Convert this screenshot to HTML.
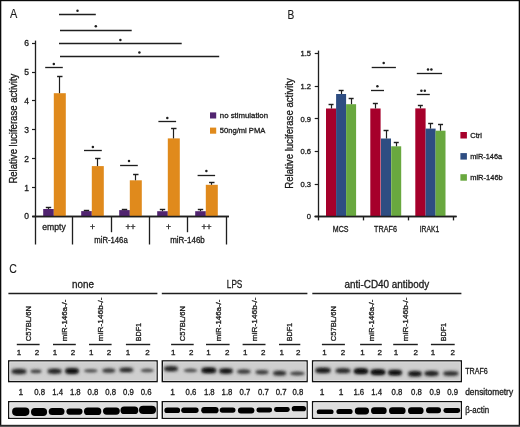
<!DOCTYPE html>
<html><head><meta charset="utf-8"><style>
html,body{margin:0;padding:0;background:#fff;}
body{width:520px;height:427px;overflow:hidden;}
svg{display:block;font-family:"Liberation Sans", sans-serif;will-change:transform;}
</style></head><body>
<svg width="520" height="427" viewBox="0 0 520 427">
<rect x="0" y="0" width="520" height="427" fill="#fff"/>
<text x="9.9" y="18.4" font-size="12.2" textLength="7.3" lengthAdjust="spacingAndGlyphs" fill="#1a1a1a" stroke="#1a1a1a" stroke-width="0.12">A</text>
<line x1="35.5" y1="40.6" x2="35.5" y2="244.5" stroke="#1e1e1e" stroke-width="1.32"/>
<line x1="32.0" y1="216.5" x2="35.1" y2="216.5" stroke="#1e1e1e" stroke-width="1.2"/>
<text x="29.0" y="219.4" font-size="8.5" text-anchor="end" fill="#1a1a1a" stroke="#1a1a1a" stroke-width="0.3">0</text>
<line x1="32.0" y1="187.5" x2="35.1" y2="187.5" stroke="#1e1e1e" stroke-width="1.2"/>
<text x="29.0" y="190.5" font-size="8.5" text-anchor="end" fill="#1a1a1a" stroke="#1a1a1a" stroke-width="0.3">1</text>
<line x1="32.0" y1="158.5" x2="35.1" y2="158.5" stroke="#1e1e1e" stroke-width="1.2"/>
<text x="29.0" y="161.6" font-size="8.5" text-anchor="end" fill="#1a1a1a" stroke="#1a1a1a" stroke-width="0.3">2</text>
<line x1="32.0" y1="129.5" x2="35.1" y2="129.5" stroke="#1e1e1e" stroke-width="1.2"/>
<text x="29.0" y="132.70000000000002" font-size="8.5" text-anchor="end" fill="#1a1a1a" stroke="#1a1a1a" stroke-width="0.3">3</text>
<line x1="32.0" y1="100.5" x2="35.1" y2="100.5" stroke="#1e1e1e" stroke-width="1.2"/>
<text x="29.0" y="103.80000000000001" font-size="8.5" text-anchor="end" fill="#1a1a1a" stroke="#1a1a1a" stroke-width="0.3">4</text>
<line x1="32.0" y1="72.5" x2="35.1" y2="72.5" stroke="#1e1e1e" stroke-width="1.2"/>
<text x="29.0" y="74.9" font-size="8.5" text-anchor="end" fill="#1a1a1a" stroke="#1a1a1a" stroke-width="0.3">5</text>
<line x1="32.0" y1="43.5" x2="35.1" y2="43.5" stroke="#1e1e1e" stroke-width="1.2"/>
<text x="29.0" y="46.00000000000002" font-size="8.5" text-anchor="end" fill="#1a1a1a" stroke="#1a1a1a" stroke-width="0.3">6</text>
<line x1="32.3" y1="216.5" x2="228.9" y2="216.5" stroke="#1e1e1e" stroke-width="1.44"/>
<line x1="72.5" y1="216.5" x2="72.5" y2="244.5" stroke="#1e1e1e" stroke-width="1.32"/>
<line x1="149.5" y1="216.5" x2="149.5" y2="244.5" stroke="#1e1e1e" stroke-width="1.32"/>
<line x1="226.5" y1="216.5" x2="226.5" y2="244.5" stroke="#1e1e1e" stroke-width="1.32"/>
<line x1="111.5" y1="216.5" x2="111.5" y2="232.2" stroke="#1e1e1e" stroke-width="1.32"/>
<line x1="187.5" y1="216.5" x2="187.5" y2="232.2" stroke="#1e1e1e" stroke-width="1.32"/>
<rect x="43.2" y="209.0" width="10.6" height="7.5" fill="#512470"/>
<rect x="53.8" y="93.2" width="12.0" height="123.3" fill="#e08a1c"/>
<line x1="48.5" y1="209.0" x2="48.5" y2="207.6" stroke="#1e1e1e" stroke-width="1.2"/>
<line x1="45.8" y1="207.5" x2="51.2" y2="207.5" stroke="#1e1e1e" stroke-width="1.44"/>
<line x1="59.5" y1="93.2" x2="59.5" y2="76.4" stroke="#1e1e1e" stroke-width="1.2"/>
<line x1="57.099999999999994" y1="76.5" x2="62.5" y2="76.5" stroke="#1e1e1e" stroke-width="1.44"/>
<rect x="81.2" y="211.1" width="10.6" height="5.400000000000006" fill="#512470"/>
<rect x="91.8" y="166.1" width="12.0" height="50.400000000000006" fill="#e08a1c"/>
<line x1="86.5" y1="211.1" x2="86.5" y2="210.1" stroke="#1e1e1e" stroke-width="1.2"/>
<line x1="83.8" y1="210.5" x2="89.2" y2="210.5" stroke="#1e1e1e" stroke-width="1.44"/>
<line x1="97.5" y1="166.1" x2="97.5" y2="158.4" stroke="#1e1e1e" stroke-width="1.2"/>
<line x1="95.1" y1="158.5" x2="100.5" y2="158.5" stroke="#1e1e1e" stroke-width="1.44"/>
<rect x="119.2" y="210.1" width="10.6" height="6.400000000000006" fill="#512470"/>
<rect x="129.8" y="180.3" width="12.0" height="36.19999999999999" fill="#e08a1c"/>
<line x1="124.5" y1="210.1" x2="124.5" y2="209.2" stroke="#1e1e1e" stroke-width="1.2"/>
<line x1="121.8" y1="209.5" x2="127.2" y2="209.5" stroke="#1e1e1e" stroke-width="1.44"/>
<line x1="135.5" y1="180.3" x2="135.5" y2="174.1" stroke="#1e1e1e" stroke-width="1.2"/>
<line x1="133.10000000000002" y1="174.5" x2="138.5" y2="174.5" stroke="#1e1e1e" stroke-width="1.44"/>
<rect x="157.2" y="211.2" width="10.6" height="5.300000000000011" fill="#512470"/>
<rect x="167.8" y="138.4" width="12.0" height="78.1" fill="#e08a1c"/>
<line x1="162.5" y1="211.2" x2="162.5" y2="209.8" stroke="#1e1e1e" stroke-width="1.2"/>
<line x1="159.8" y1="209.5" x2="165.2" y2="209.5" stroke="#1e1e1e" stroke-width="1.44"/>
<line x1="173.5" y1="138.4" x2="173.5" y2="128.5" stroke="#1e1e1e" stroke-width="1.2"/>
<line x1="171.10000000000002" y1="128.5" x2="176.5" y2="128.5" stroke="#1e1e1e" stroke-width="1.44"/>
<rect x="195.2" y="211.2" width="10.6" height="5.300000000000011" fill="#512470"/>
<rect x="205.8" y="184.8" width="12.0" height="31.69999999999999" fill="#e08a1c"/>
<line x1="200.5" y1="211.2" x2="200.5" y2="209.8" stroke="#1e1e1e" stroke-width="1.2"/>
<line x1="197.8" y1="209.5" x2="203.2" y2="209.5" stroke="#1e1e1e" stroke-width="1.44"/>
<line x1="211.5" y1="184.8" x2="211.5" y2="182.7" stroke="#1e1e1e" stroke-width="1.2"/>
<line x1="209.10000000000002" y1="182.5" x2="214.5" y2="182.5" stroke="#1e1e1e" stroke-width="1.44"/>
<line x1="32.3" y1="216.5" x2="228.9" y2="216.5" stroke="#1e1e1e" stroke-width="1.44"/>
<line x1="45.2" y1="67.5" x2="62.8" y2="67.5" stroke="#1e1e1e" stroke-width="1.32"/>
<circle cx="53.8" cy="64.1" r="1.25" fill="#1e1e1e"/>
<line x1="84.0" y1="150.5" x2="101.8" y2="150.5" stroke="#1e1e1e" stroke-width="1.32"/>
<circle cx="92.9" cy="146.9" r="1.25" fill="#1e1e1e"/>
<line x1="120.1" y1="165.5" x2="137.8" y2="165.5" stroke="#1e1e1e" stroke-width="1.32"/>
<circle cx="129.0" cy="161.10000000000002" r="1.25" fill="#1e1e1e"/>
<line x1="158.4" y1="121.5" x2="176.1" y2="121.5" stroke="#1e1e1e" stroke-width="1.32"/>
<circle cx="167.3" cy="117.89999999999999" r="1.25" fill="#1e1e1e"/>
<line x1="197.6" y1="175.5" x2="215.1" y2="175.5" stroke="#1e1e1e" stroke-width="1.32"/>
<circle cx="206.4" cy="171.10000000000002" r="1.25" fill="#1e1e1e"/>
<line x1="59.0" y1="14.5" x2="95.8" y2="14.5" stroke="#1e1e1e" stroke-width="1.32"/>
<circle cx="77.5" cy="10.700000000000001" r="1.25" fill="#1e1e1e"/>
<line x1="60.0" y1="30.5" x2="131.7" y2="30.5" stroke="#1e1e1e" stroke-width="1.32"/>
<circle cx="95.8" cy="26.3" r="1.25" fill="#1e1e1e"/>
<line x1="59.0" y1="43.5" x2="181.7" y2="43.5" stroke="#1e1e1e" stroke-width="1.32"/>
<circle cx="120.4" cy="39.9" r="1.25" fill="#1e1e1e"/>
<line x1="60.0" y1="56.5" x2="219.2" y2="56.5" stroke="#1e1e1e" stroke-width="1.32"/>
<circle cx="139.4" cy="52.599999999999994" r="1.25" fill="#1e1e1e"/>
<text transform="translate(17.2,128.6) rotate(-90)" font-size="10.0" text-anchor="middle" textLength="110" lengthAdjust="spacingAndGlyphs" fill="#1a1a1a" stroke="#1a1a1a" stroke-width="0.3">Relative luciferase activity</text>
<text x="54.0" y="230.0" font-size="8.6" text-anchor="middle" textLength="23.5" lengthAdjust="spacingAndGlyphs" fill="#1a1a1a" stroke="#1a1a1a" stroke-width="0.3">empty</text>
<text x="92.5" y="230.0" font-size="8.6" text-anchor="middle" fill="#1a1a1a" stroke="#1a1a1a" stroke-width="0.3">+</text>
<text x="130.5" y="230.0" font-size="8.6" text-anchor="middle" fill="#1a1a1a" stroke="#1a1a1a" stroke-width="0.3">++</text>
<text x="168.5" y="230.0" font-size="8.6" text-anchor="middle" fill="#1a1a1a" stroke="#1a1a1a" stroke-width="0.3">+</text>
<text x="206.5" y="230.0" font-size="8.6" text-anchor="middle" fill="#1a1a1a" stroke="#1a1a1a" stroke-width="0.3">++</text>
<text x="111.0" y="243.2" font-size="8.4" text-anchor="middle" textLength="33.4" lengthAdjust="spacingAndGlyphs" fill="#1a1a1a" stroke="#1a1a1a" stroke-width="0.3">miR-146a</text>
<text x="187.5" y="243.4" font-size="8.4" text-anchor="middle" textLength="34.6" lengthAdjust="spacingAndGlyphs" fill="#1a1a1a" stroke="#1a1a1a" stroke-width="0.3">miR-146b</text>
<rect x="210.0" y="112.4" width="6.2" height="6.1" fill="#512470"/>
<rect x="210.0" y="127.6" width="6.2" height="6.1" fill="#e08a1c"/>
<text x="219.8" y="118.2" font-size="7.8" textLength="48.2" lengthAdjust="spacingAndGlyphs" fill="#1a1a1a" stroke="#1a1a1a" stroke-width="0.3">no stimulation</text>
<text x="219.8" y="133.4" font-size="7.8" textLength="45.5" lengthAdjust="spacingAndGlyphs" fill="#1a1a1a" stroke="#1a1a1a" stroke-width="0.3">50ng/ml PMA</text>
<text x="287.5" y="18.7" font-size="12.2" textLength="6.8" lengthAdjust="spacingAndGlyphs" fill="#1a1a1a" stroke="#1a1a1a" stroke-width="0.12">B</text>
<line x1="318.5" y1="50.6" x2="318.5" y2="220.4" stroke="#1e1e1e" stroke-width="1.32"/>
<line x1="314.7" y1="216.5" x2="318.4" y2="216.5" stroke="#1e1e1e" stroke-width="1.2"/>
<text x="311.0" y="219.39999999999998" font-size="7.6" text-anchor="end" fill="#1a1a1a" stroke="#1a1a1a" stroke-width="0.3">0</text>
<line x1="314.7" y1="184.5" x2="318.4" y2="184.5" stroke="#1e1e1e" stroke-width="1.2"/>
<text x="311.0" y="186.78999999999996" font-size="7.6" text-anchor="end" fill="#1a1a1a" stroke="#1a1a1a" stroke-width="0.3">0.3</text>
<line x1="314.7" y1="151.5" x2="318.4" y2="151.5" stroke="#1e1e1e" stroke-width="1.2"/>
<text x="311.0" y="154.17999999999998" font-size="7.6" text-anchor="end" fill="#1a1a1a" stroke="#1a1a1a" stroke-width="0.3">0.6</text>
<line x1="314.7" y1="118.5" x2="318.4" y2="118.5" stroke="#1e1e1e" stroke-width="1.2"/>
<text x="311.0" y="121.57" font-size="7.6" text-anchor="end" fill="#1a1a1a" stroke="#1a1a1a" stroke-width="0.3">0.9</text>
<line x1="314.7" y1="86.5" x2="318.4" y2="86.5" stroke="#1e1e1e" stroke-width="1.2"/>
<text x="311.0" y="88.96" font-size="7.6" text-anchor="end" fill="#1a1a1a" stroke="#1a1a1a" stroke-width="0.3">1.2</text>
<line x1="314.7" y1="53.5" x2="318.4" y2="53.5" stroke="#1e1e1e" stroke-width="1.2"/>
<text x="311.0" y="56.34999999999998" font-size="7.6" text-anchor="end" fill="#1a1a1a" stroke="#1a1a1a" stroke-width="0.3">1.5</text>
<line x1="314.7" y1="216.5" x2="456.6" y2="216.5" stroke="#1e1e1e" stroke-width="1.44"/>
<line x1="363.5" y1="216.7" x2="363.5" y2="220.4" stroke="#1e1e1e" stroke-width="1.32"/>
<line x1="408.5" y1="216.7" x2="408.5" y2="220.4" stroke="#1e1e1e" stroke-width="1.32"/>
<line x1="453.5" y1="216.7" x2="453.5" y2="220.4" stroke="#1e1e1e" stroke-width="1.32"/>
<rect x="326.0" y="108.5" width="10.3" height="108.19999999999999" fill="#a6002b"/>
<line x1="331.5" y1="108.5" x2="331.5" y2="104.6" stroke="#1e1e1e" stroke-width="1.2"/>
<line x1="328.55" y1="104.5" x2="333.55" y2="104.5" stroke="#1e1e1e" stroke-width="1.44"/>
<rect x="336.1" y="94.0" width="10.0" height="122.69999999999999" fill="#2e4d82"/>
<line x1="341.5" y1="94.0" x2="341.5" y2="90.8" stroke="#1e1e1e" stroke-width="1.2"/>
<line x1="338.65000000000003" y1="90.5" x2="343.65000000000003" y2="90.5" stroke="#1e1e1e" stroke-width="1.44"/>
<rect x="346.1" y="104.2" width="10.0" height="112.49999999999999" fill="#69a83f"/>
<line x1="351.5" y1="104.2" x2="351.5" y2="98.3" stroke="#1e1e1e" stroke-width="1.2"/>
<line x1="348.65000000000003" y1="98.5" x2="353.65000000000003" y2="98.5" stroke="#1e1e1e" stroke-width="1.44"/>
<rect x="370.3" y="108.5" width="10.3" height="108.19999999999999" fill="#a6002b"/>
<line x1="375.5" y1="108.5" x2="375.5" y2="103.1" stroke="#1e1e1e" stroke-width="1.2"/>
<line x1="372.85" y1="103.5" x2="377.85" y2="103.5" stroke="#1e1e1e" stroke-width="1.44"/>
<rect x="381.0" y="138.5" width="10.0" height="78.19999999999999" fill="#2e4d82"/>
<line x1="386.5" y1="138.5" x2="386.5" y2="130.1" stroke="#1e1e1e" stroke-width="1.2"/>
<line x1="383.55" y1="130.5" x2="388.55" y2="130.5" stroke="#1e1e1e" stroke-width="1.44"/>
<rect x="391.2" y="146.3" width="10.0" height="70.39999999999998" fill="#69a83f"/>
<line x1="396.5" y1="146.3" x2="396.5" y2="142.3" stroke="#1e1e1e" stroke-width="1.2"/>
<line x1="393.75" y1="142.5" x2="398.75" y2="142.5" stroke="#1e1e1e" stroke-width="1.44"/>
<rect x="415.3" y="108.4" width="10.3" height="108.29999999999998" fill="#a6002b"/>
<line x1="420.5" y1="108.4" x2="420.5" y2="105.6" stroke="#1e1e1e" stroke-width="1.2"/>
<line x1="417.85" y1="105.5" x2="422.85" y2="105.5" stroke="#1e1e1e" stroke-width="1.44"/>
<rect x="425.6" y="128.6" width="10.0" height="88.1" fill="#2e4d82"/>
<line x1="430.5" y1="128.6" x2="430.5" y2="123.8" stroke="#1e1e1e" stroke-width="1.2"/>
<line x1="428.15000000000003" y1="123.5" x2="433.15000000000003" y2="123.5" stroke="#1e1e1e" stroke-width="1.44"/>
<rect x="435.5" y="130.7" width="10.0" height="86.0" fill="#69a83f"/>
<line x1="440.5" y1="130.7" x2="440.5" y2="124.7" stroke="#1e1e1e" stroke-width="1.2"/>
<line x1="438.05" y1="124.5" x2="443.05" y2="124.5" stroke="#1e1e1e" stroke-width="1.44"/>
<line x1="314.7" y1="216.5" x2="456.6" y2="216.5" stroke="#1e1e1e" stroke-width="1.44"/>
<line x1="371.7" y1="67.5" x2="395.9" y2="67.5" stroke="#1e1e1e" stroke-width="1.32"/>
<circle cx="383.7" cy="63.099999999999994" r="1.25" fill="#1e1e1e"/>
<line x1="371.0" y1="90.5" x2="384.0" y2="90.5" stroke="#1e1e1e" stroke-width="1.32"/>
<circle cx="377.4" cy="86.3" r="1.25" fill="#1e1e1e"/>
<line x1="416.8" y1="73.5" x2="442.1" y2="73.5" stroke="#1e1e1e" stroke-width="1.32"/>
<circle cx="428.0" cy="69.5" r="1.25" fill="#1e1e1e"/>
<circle cx="431.4" cy="69.5" r="1.25" fill="#1e1e1e"/>
<line x1="416.8" y1="94.5" x2="429.8" y2="94.5" stroke="#1e1e1e" stroke-width="1.32"/>
<circle cx="421.4" cy="90.7" r="1.25" fill="#1e1e1e"/>
<circle cx="424.8" cy="90.7" r="1.25" fill="#1e1e1e"/>
<text transform="translate(292.8,133.5) rotate(-90)" font-size="10.0" text-anchor="middle" textLength="110.4" lengthAdjust="spacingAndGlyphs" fill="#1a1a1a" stroke="#1a1a1a" stroke-width="0.3">Relative luciferase activity</text>
<text x="340.6" y="231.5" font-size="8.4" text-anchor="middle" textLength="15.7" lengthAdjust="spacingAndGlyphs" fill="#1a1a1a" stroke="#1a1a1a" stroke-width="0.3">MCS</text>
<text x="385.5" y="231.5" font-size="8.4" text-anchor="middle" textLength="22.8" lengthAdjust="spacingAndGlyphs" fill="#1a1a1a" stroke="#1a1a1a" stroke-width="0.3">TRAF6</text>
<text x="429.5" y="231.5" font-size="8.4" text-anchor="middle" textLength="19.5" lengthAdjust="spacingAndGlyphs" fill="#1a1a1a" stroke="#1a1a1a" stroke-width="0.3">IRAK1</text>
<rect x="460.4" y="132.0" width="6.5" height="6.5" fill="#a6002b"/>
<rect x="460.4" y="153.1" width="6.5" height="6.5" fill="#2e4d82"/>
<rect x="460.4" y="174.2" width="6.5" height="6.5" fill="#69a83f"/>
<text x="470.2" y="138.2" font-size="8.0" textLength="11.8" lengthAdjust="spacingAndGlyphs" fill="#1a1a1a" stroke="#1a1a1a" stroke-width="0.3">Ctrl</text>
<text x="470.2" y="159.2" font-size="8.0" textLength="31.9" lengthAdjust="spacingAndGlyphs" fill="#1a1a1a" stroke="#1a1a1a" stroke-width="0.3">miR-146a</text>
<text x="470.2" y="180.3" font-size="8.0" textLength="32.6" lengthAdjust="spacingAndGlyphs" fill="#1a1a1a" stroke="#1a1a1a" stroke-width="0.3">miR-146b</text>
<text x="9.2" y="272.6" font-size="12.2" textLength="7.6" lengthAdjust="spacingAndGlyphs" fill="#1a1a1a" stroke="#1a1a1a" stroke-width="0.12">C</text>
<line x1="8.4" y1="293.5" x2="157.4" y2="293.5" stroke="#1e1e1e" stroke-width="1.44"/>
<text x="83.0" y="287.8" font-size="10.0" text-anchor="middle" textLength="21.9" lengthAdjust="spacingAndGlyphs" fill="#1a1a1a" stroke="#1a1a1a" stroke-width="0.3">none</text>
<line x1="161.8" y1="293.5" x2="307.4" y2="293.5" stroke="#1e1e1e" stroke-width="1.44"/>
<text x="234.6" y="287.8" font-size="10.0" text-anchor="middle" textLength="15.5" lengthAdjust="spacingAndGlyphs" fill="#1a1a1a" stroke="#1a1a1a" stroke-width="0.3">LPS</text>
<line x1="312.3" y1="293.5" x2="461.4" y2="293.5" stroke="#1e1e1e" stroke-width="1.44"/>
<text x="386.9" y="287.8" font-size="10.0" text-anchor="middle" textLength="84.6" lengthAdjust="spacingAndGlyphs" fill="#1a1a1a" stroke="#1a1a1a" stroke-width="0.3">anti-CD40 antibody</text>
<line x1="16.8" y1="344.5" x2="39.6" y2="344.5" stroke="#1e1e1e" stroke-width="1.44"/>
<text x="19.0" y="355.3" font-size="8.0" text-anchor="middle" fill="#1a1a1a" stroke="#1a1a1a" stroke-width="0.3">1</text>
<text x="37.0" y="355.3" font-size="8.0" text-anchor="middle" fill="#1a1a1a" stroke="#1a1a1a" stroke-width="0.3">2</text>
<text transform="translate(30.9,341.2) rotate(-90)" font-size="7.9" textLength="35.1" lengthAdjust="spacingAndGlyphs" fill="#1a1a1a" stroke="#1a1a1a" stroke-width="0.3">C57BL/6N</text>
<line x1="53.0" y1="344.5" x2="75.8" y2="344.5" stroke="#1e1e1e" stroke-width="1.44"/>
<text x="55.0" y="355.3" font-size="8.0" text-anchor="middle" fill="#1a1a1a" stroke="#1a1a1a" stroke-width="0.3">1</text>
<text x="73.0" y="355.3" font-size="8.0" text-anchor="middle" fill="#1a1a1a" stroke="#1a1a1a" stroke-width="0.3">2</text>
<text transform="translate(67.1,341.2) rotate(-90)" font-size="7.9" textLength="41.6" lengthAdjust="spacingAndGlyphs" fill="#1a1a1a" stroke="#1a1a1a" stroke-width="0.3">miR-146a-/-</text>
<line x1="89.0" y1="344.5" x2="111.6" y2="344.5" stroke="#1e1e1e" stroke-width="1.44"/>
<text x="91.2" y="355.3" font-size="8.0" text-anchor="middle" fill="#1a1a1a" stroke="#1a1a1a" stroke-width="0.3">1</text>
<text x="109.0" y="355.3" font-size="8.0" text-anchor="middle" fill="#1a1a1a" stroke="#1a1a1a" stroke-width="0.3">2</text>
<text transform="translate(103.0,341.2) rotate(-90)" font-size="7.9" textLength="43.8" lengthAdjust="spacingAndGlyphs" fill="#1a1a1a" stroke="#1a1a1a" stroke-width="0.3">miR-146b-/-</text>
<line x1="125.9" y1="344.5" x2="150.2" y2="344.5" stroke="#1e1e1e" stroke-width="1.44"/>
<text x="128.1" y="355.3" font-size="8.0" text-anchor="middle" fill="#1a1a1a" stroke="#1a1a1a" stroke-width="0.3">1</text>
<text x="147.6" y="355.3" font-size="8.0" text-anchor="middle" fill="#1a1a1a" stroke="#1a1a1a" stroke-width="0.3">2</text>
<text transform="translate(140.8,341.2) rotate(-90)" font-size="7.9" textLength="18.3" lengthAdjust="spacingAndGlyphs" fill="#1a1a1a" stroke="#1a1a1a" stroke-width="0.3">BDF1</text>
<line x1="171.1" y1="344.5" x2="193.7" y2="344.5" stroke="#1e1e1e" stroke-width="1.44"/>
<text x="173.2" y="355.3" font-size="8.0" text-anchor="middle" fill="#1a1a1a" stroke="#1a1a1a" stroke-width="0.3">1</text>
<text x="191.2" y="355.3" font-size="8.0" text-anchor="middle" fill="#1a1a1a" stroke="#1a1a1a" stroke-width="0.3">2</text>
<text transform="translate(185.1,341.2) rotate(-90)" font-size="7.9" textLength="35.1" lengthAdjust="spacingAndGlyphs" fill="#1a1a1a" stroke="#1a1a1a" stroke-width="0.3">C57BL/6N</text>
<line x1="206.0" y1="344.5" x2="229.6" y2="344.5" stroke="#1e1e1e" stroke-width="1.44"/>
<text x="208.4" y="355.3" font-size="8.0" text-anchor="middle" fill="#1a1a1a" stroke="#1a1a1a" stroke-width="0.3">1</text>
<text x="227.3" y="355.3" font-size="8.0" text-anchor="middle" fill="#1a1a1a" stroke="#1a1a1a" stroke-width="0.3">2</text>
<text transform="translate(220.5,341.2) rotate(-90)" font-size="7.9" textLength="41.6" lengthAdjust="spacingAndGlyphs" fill="#1a1a1a" stroke="#1a1a1a" stroke-width="0.3">miR-146a-/-</text>
<line x1="242.6" y1="344.5" x2="265.5" y2="344.5" stroke="#1e1e1e" stroke-width="1.44"/>
<text x="245.2" y="355.3" font-size="8.0" text-anchor="middle" fill="#1a1a1a" stroke="#1a1a1a" stroke-width="0.3">1</text>
<text x="263.2" y="355.3" font-size="8.0" text-anchor="middle" fill="#1a1a1a" stroke="#1a1a1a" stroke-width="0.3">2</text>
<text transform="translate(256.8,341.2) rotate(-90)" font-size="7.9" textLength="43.8" lengthAdjust="spacingAndGlyphs" fill="#1a1a1a" stroke="#1a1a1a" stroke-width="0.3">miR-146b-/-</text>
<line x1="279.0" y1="344.5" x2="300.3" y2="344.5" stroke="#1e1e1e" stroke-width="1.44"/>
<text x="281.8" y="355.3" font-size="8.0" text-anchor="middle" fill="#1a1a1a" stroke="#1a1a1a" stroke-width="0.3">1</text>
<text x="298.3" y="355.3" font-size="8.0" text-anchor="middle" fill="#1a1a1a" stroke="#1a1a1a" stroke-width="0.3">2</text>
<text transform="translate(292.3,341.2) rotate(-90)" font-size="7.9" textLength="18.3" lengthAdjust="spacingAndGlyphs" fill="#1a1a1a" stroke="#1a1a1a" stroke-width="0.3">BDF1</text>
<line x1="321.9" y1="344.5" x2="344.9" y2="344.5" stroke="#1e1e1e" stroke-width="1.44"/>
<text x="324.6" y="355.3" font-size="8.0" text-anchor="middle" fill="#1a1a1a" stroke="#1a1a1a" stroke-width="0.3">1</text>
<text x="342.9" y="355.3" font-size="8.0" text-anchor="middle" fill="#1a1a1a" stroke="#1a1a1a" stroke-width="0.3">2</text>
<text transform="translate(336.1,341.2) rotate(-90)" font-size="7.9" textLength="35.1" lengthAdjust="spacingAndGlyphs" fill="#1a1a1a" stroke="#1a1a1a" stroke-width="0.3">C57BL/6N</text>
<line x1="360.1" y1="344.5" x2="381.8" y2="344.5" stroke="#1e1e1e" stroke-width="1.44"/>
<text x="362.5" y="355.3" font-size="8.0" text-anchor="middle" fill="#1a1a1a" stroke="#1a1a1a" stroke-width="0.3">1</text>
<text x="379.8" y="355.3" font-size="8.0" text-anchor="middle" fill="#1a1a1a" stroke="#1a1a1a" stroke-width="0.3">2</text>
<text transform="translate(373.7,341.2) rotate(-90)" font-size="7.9" textLength="41.6" lengthAdjust="spacingAndGlyphs" fill="#1a1a1a" stroke="#1a1a1a" stroke-width="0.3">miR-146a-/-</text>
<line x1="393.2" y1="344.5" x2="417.8" y2="344.5" stroke="#1e1e1e" stroke-width="1.44"/>
<text x="396.0" y="355.3" font-size="8.0" text-anchor="middle" fill="#1a1a1a" stroke="#1a1a1a" stroke-width="0.3">1</text>
<text x="415.8" y="355.3" font-size="8.0" text-anchor="middle" fill="#1a1a1a" stroke="#1a1a1a" stroke-width="0.3">2</text>
<text transform="translate(408.2,341.2) rotate(-90)" font-size="7.9" textLength="43.8" lengthAdjust="spacingAndGlyphs" fill="#1a1a1a" stroke="#1a1a1a" stroke-width="0.3">miR-146b-/-</text>
<line x1="430.9" y1="344.5" x2="454.7" y2="344.5" stroke="#1e1e1e" stroke-width="1.44"/>
<text x="433.0" y="355.3" font-size="8.0" text-anchor="middle" fill="#1a1a1a" stroke="#1a1a1a" stroke-width="0.3">1</text>
<text x="452.7" y="355.3" font-size="8.0" text-anchor="middle" fill="#1a1a1a" stroke="#1a1a1a" stroke-width="0.3">2</text>
<text transform="translate(445.5,341.2) rotate(-90)" font-size="7.9" textLength="18.3" lengthAdjust="spacingAndGlyphs" fill="#1a1a1a" stroke="#1a1a1a" stroke-width="0.3">BDF1</text>
<defs><filter id="bl" x="-50%" y="-100%" width="200%" height="300%"><feGaussianBlur stdDeviation="0.85"/></filter><filter id="bl3" x="-50%" y="-100%" width="200%" height="300%"><feGaussianBlur stdDeviation="1.6"/></filter><filter id="bl2" x="-50%" y="-100%" width="200%" height="300%"><feGaussianBlur stdDeviation="0.6"/></filter></defs>
<rect x="8.7" y="360.9" width="148.4" height="20.7" fill="#cfcfcf" stroke="#111" stroke-width="1.4"/>
<rect x="9.8" y="362.0" width="146.20000000000002" height="18.5" fill="none" stroke="#e4e4e4" stroke-width="0.8"/>
<rect x="8.7" y="401.7" width="148.4" height="16.6" fill="#dedede" stroke="#111" stroke-width="1.4"/>
<rect x="9.8" y="402.8" width="146.20000000000002" height="14.4" fill="none" stroke="#eeeeee" stroke-width="0.8"/>
<rect x="162.29999999999998" y="360.9" width="144.8" height="20.7" fill="#cfcfcf" stroke="#111" stroke-width="1.4"/>
<rect x="163.4" y="362.0" width="142.60000000000002" height="18.5" fill="none" stroke="#e4e4e4" stroke-width="0.8"/>
<rect x="162.29999999999998" y="401.7" width="144.8" height="16.6" fill="#dedede" stroke="#111" stroke-width="1.4"/>
<rect x="163.4" y="402.8" width="142.60000000000002" height="14.4" fill="none" stroke="#eeeeee" stroke-width="0.8"/>
<rect x="312.59999999999997" y="360.9" width="148.70000000000002" height="20.7" fill="#cfcfcf" stroke="#111" stroke-width="1.4"/>
<rect x="313.7" y="362.0" width="146.50000000000003" height="18.5" fill="none" stroke="#e4e4e4" stroke-width="0.8"/>
<rect x="312.59999999999997" y="401.7" width="148.70000000000002" height="16.6" fill="#dedede" stroke="#111" stroke-width="1.4"/>
<rect x="313.7" y="402.8" width="146.50000000000003" height="14.4" fill="none" stroke="#eeeeee" stroke-width="0.8"/>
<rect x="11.0" y="368.2" width="16" height="6.5" rx="3.3" fill="#838383" filter="url(#bl3)"/>
<ellipse cx="19" cy="371.5" rx="7.1" ry="2.2" fill="#262626" filter="url(#bl)"/>
<rect x="29.8" y="368.3" width="12.5" height="6.0" rx="3.0" fill="#b6b6b6" filter="url(#bl3)"/>
<ellipse cx="36" cy="371.3" rx="5.3" ry="1.9" fill="#4c4c4c" filter="url(#bl)"/>
<rect x="47.1" y="368.0" width="15" height="6.5" rx="3.3" fill="#838383" filter="url(#bl3)"/>
<ellipse cx="54.6" cy="371.3" rx="6.6" ry="2.2" fill="#262626" filter="url(#bl)"/>
<rect x="64.8" y="367.6" width="14.5" height="6.8" rx="3.4" fill="#616161" filter="url(#bl3)"/>
<ellipse cx="72" cy="371" rx="6.3" ry="2.3" fill="#0c0c0c" filter="url(#bl)"/>
<rect x="83.3" y="367.9" width="15" height="5.9" rx="2.9" fill="#c0c0c0" filter="url(#bl3)"/>
<ellipse cx="90.8" cy="370.8" rx="6.6" ry="1.8" fill="#595959" filter="url(#bl)"/>
<rect x="101.5" y="367.5" width="14.5" height="6.2" rx="3.1" fill="#a5a5a5" filter="url(#bl3)"/>
<ellipse cx="108.8" cy="370.6" rx="6.3" ry="2.0" fill="#3f3f3f" filter="url(#bl)"/>
<rect x="118.8" y="366.7" width="15" height="6.4" rx="3.2" fill="#949494" filter="url(#bl3)"/>
<ellipse cx="126.3" cy="369.9" rx="6.6" ry="2.1" fill="#333333" filter="url(#bl)"/>
<rect x="139.9" y="367.5" width="14.5" height="5.9" rx="2.9" fill="#c0c0c0" filter="url(#bl3)"/>
<ellipse cx="147.2" cy="370.4" rx="6.3" ry="1.8" fill="#595959" filter="url(#bl)"/>
<rect x="163.5" y="365.5" width="15" height="6.5" rx="3.3" fill="#838383" filter="url(#bl3)"/>
<ellipse cx="171" cy="368.8" rx="6.6" ry="2.2" fill="#262626" filter="url(#bl)"/>
<rect x="183.0" y="367.5" width="15" height="5.9" rx="2.9" fill="#c0c0c0" filter="url(#bl3)"/>
<ellipse cx="190.5" cy="370.4" rx="6.6" ry="1.8" fill="#595959" filter="url(#bl)"/>
<rect x="201.1" y="367.0" width="15.5" height="6.8" rx="3.4" fill="#616161" filter="url(#bl3)"/>
<ellipse cx="208.8" cy="370.4" rx="6.8" ry="2.3" fill="#0c0c0c" filter="url(#bl)"/>
<rect x="218.8" y="367.7" width="14.5" height="6.7" rx="3.3" fill="#727272" filter="url(#bl3)"/>
<ellipse cx="226" cy="371" rx="6.3" ry="2.2" fill="#191919" filter="url(#bl)"/>
<rect x="236.3" y="368.5" width="15" height="6.2" rx="3.1" fill="#a5a5a5" filter="url(#bl3)"/>
<ellipse cx="243.8" cy="371.6" rx="6.6" ry="2.0" fill="#3f3f3f" filter="url(#bl)"/>
<rect x="254.8" y="369.1" width="14.5" height="6.2" rx="3.1" fill="#a5a5a5" filter="url(#bl3)"/>
<ellipse cx="262" cy="372.2" rx="6.3" ry="2.0" fill="#3f3f3f" filter="url(#bl)"/>
<rect x="272.4" y="370.0" width="14.5" height="6.4" rx="3.2" fill="#949494" filter="url(#bl3)"/>
<ellipse cx="279.6" cy="373.2" rx="6.3" ry="2.1" fill="#333333" filter="url(#bl)"/>
<rect x="289.3" y="370.5" width="16" height="6.0" rx="3.0" fill="#b6b6b6" filter="url(#bl3)"/>
<ellipse cx="297.3" cy="373.5" rx="7.1" ry="1.9" fill="#4c4c4c" filter="url(#bl)"/>
<rect x="315.0" y="367.1" width="16" height="6.7" rx="3.3" fill="#727272" filter="url(#bl3)"/>
<ellipse cx="323" cy="370.4" rx="7.1" ry="2.2" fill="#191919" filter="url(#bl)"/>
<rect x="335.0" y="367.5" width="16" height="6.5" rx="3.2" fill="#8a8a8a" filter="url(#bl3)"/>
<ellipse cx="343" cy="370.7" rx="7.1" ry="2.1" fill="#2b2b2b" filter="url(#bl)"/>
<rect x="353.5" y="367.7" width="15" height="6.9" rx="3.5" fill="#5a5a5a" filter="url(#bl3)"/>
<ellipse cx="361" cy="371.2" rx="6.6" ry="2.4" fill="#070707" filter="url(#bl)"/>
<rect x="370.3" y="368.7" width="15.4" height="6.9" rx="3.5" fill="#5a5a5a" filter="url(#bl3)"/>
<ellipse cx="378" cy="372.2" rx="6.8" ry="2.4" fill="#070707" filter="url(#bl)"/>
<rect x="387.7" y="369.3" width="14.6" height="6.8" rx="3.4" fill="#616161" filter="url(#bl3)"/>
<ellipse cx="395" cy="372.7" rx="6.4" ry="2.3" fill="#0c0c0c" filter="url(#bl)"/>
<rect x="407.7" y="370.5" width="14.6" height="6.7" rx="3.3" fill="#727272" filter="url(#bl3)"/>
<ellipse cx="415" cy="373.8" rx="6.4" ry="2.2" fill="#191919" filter="url(#bl)"/>
<rect x="423.9" y="370.2" width="15.3" height="6.6" rx="3.3" fill="#808080" filter="url(#bl3)"/>
<ellipse cx="431.5" cy="373.5" rx="6.8" ry="2.2" fill="#242424" filter="url(#bl)"/>
<rect x="442.6" y="370.3" width="16.5" height="6.4" rx="3.2" fill="#949494" filter="url(#bl3)"/>
<ellipse cx="450.8" cy="373.5" rx="7.3" ry="2.1" fill="#333333" filter="url(#bl)"/>
<rect x="12.1" y="407.6" width="17.3" height="8.3" rx="4.1" ry="4.1" fill="#000" filter="url(#bl2)"/>
<rect x="31.0" y="408.1" width="16.1" height="7.8" rx="3.9" ry="3.9" fill="#000" filter="url(#bl2)"/>
<rect x="48.7" y="408.1" width="15.8" height="7.0" rx="3.5" ry="3.5" fill="#000" filter="url(#bl2)"/>
<rect x="66.4" y="408.4" width="16.1" height="6.3" rx="3.1" ry="3.1" fill="#000" filter="url(#bl2)"/>
<rect x="84.0" y="407.6" width="17.3" height="7.5" rx="3.7" ry="3.7" fill="#000" filter="url(#bl2)"/>
<rect x="103.0" y="407.4" width="16.8" height="7.4" rx="3.7" ry="3.7" fill="#000" filter="url(#bl2)"/>
<rect x="120.5" y="406.6" width="17.8" height="7.5" rx="3.7" ry="3.7" fill="#000" filter="url(#bl2)"/>
<rect x="139.0" y="405.8" width="17.0" height="8.3" rx="4.1" ry="4.1" fill="#000" filter="url(#bl2)"/>
<rect x="164.4" y="407.6" width="15.7" height="5.5" rx="2.7" ry="2.7" fill="#000" filter="url(#bl2)"/>
<rect x="181.2" y="407.6" width="17.4" height="5.3" rx="2.6" ry="2.6" fill="#000" filter="url(#bl2)"/>
<rect x="201.2" y="407.1" width="17.4" height="6.2" rx="3.1" ry="3.1" fill="#000" filter="url(#bl2)"/>
<rect x="219.7" y="407.4" width="15.8" height="5.3" rx="2.6" ry="2.6" fill="#000" filter="url(#bl2)"/>
<rect x="237.9" y="407.6" width="16.5" height="6.0" rx="3.0" ry="3.0" fill="#000" filter="url(#bl2)"/>
<rect x="256.4" y="407.6" width="15.7" height="4.9" rx="2.4" ry="2.4" fill="#000" filter="url(#bl2)"/>
<rect x="274.0" y="407.1" width="15.8" height="4.8" rx="2.4" ry="2.4" fill="#000" filter="url(#bl2)"/>
<rect x="291.7" y="406.1" width="14.3" height="5.2" rx="2.6" ry="2.6" fill="#000" filter="url(#bl2)"/>
<rect x="316.7" y="409.6" width="16.9" height="4.5" rx="2.2" ry="2.2" fill="#000" filter="url(#bl2)"/>
<rect x="336.4" y="408.9" width="16.2" height="5.2" rx="2.6" ry="2.6" fill="#000" filter="url(#bl2)"/>
<rect x="354.8" y="407.6" width="14.2" height="6.8" rx="3.4" ry="3.4" fill="#000" filter="url(#bl2)"/>
<rect x="371.0" y="407.3" width="15.7" height="6.8" rx="3.4" ry="3.4" fill="#000" filter="url(#bl2)"/>
<rect x="389.0" y="407.3" width="16.6" height="6.8" rx="3.4" ry="3.4" fill="#000" filter="url(#bl2)"/>
<rect x="408.0" y="407.3" width="15.6" height="6.8" rx="3.4" ry="3.4" fill="#000" filter="url(#bl2)"/>
<rect x="426.0" y="407.3" width="15.0" height="6.0" rx="3.0" ry="3.0" fill="#000" filter="url(#bl2)"/>
<rect x="443.4" y="408.1" width="16.8" height="4.8" rx="2.4" ry="2.4" fill="#000" filter="url(#bl2)"/>
<text x="20.9" y="395.3" font-size="8.4" text-anchor="middle" fill="#1a1a1a" stroke="#1a1a1a" stroke-width="0.3">1</text>
<text x="39.6" y="395.3" font-size="8.4" text-anchor="middle" textLength="10.8" lengthAdjust="spacingAndGlyphs" fill="#1a1a1a" stroke="#1a1a1a" stroke-width="0.3">0.8</text>
<text x="57.6" y="395.3" font-size="8.4" text-anchor="middle" textLength="10.8" lengthAdjust="spacingAndGlyphs" fill="#1a1a1a" stroke="#1a1a1a" stroke-width="0.3">1.4</text>
<text x="75.3" y="395.3" font-size="8.4" text-anchor="middle" textLength="10.8" lengthAdjust="spacingAndGlyphs" fill="#1a1a1a" stroke="#1a1a1a" stroke-width="0.3">1.8</text>
<text x="93.0" y="395.3" font-size="8.4" text-anchor="middle" textLength="10.8" lengthAdjust="spacingAndGlyphs" fill="#1a1a1a" stroke="#1a1a1a" stroke-width="0.3">0.8</text>
<text x="110.7" y="395.3" font-size="8.4" text-anchor="middle" textLength="10.8" lengthAdjust="spacingAndGlyphs" fill="#1a1a1a" stroke="#1a1a1a" stroke-width="0.3">0.8</text>
<text x="128.5" y="395.3" font-size="8.4" text-anchor="middle" textLength="10.8" lengthAdjust="spacingAndGlyphs" fill="#1a1a1a" stroke="#1a1a1a" stroke-width="0.3">0.9</text>
<text x="146.1" y="395.3" font-size="8.4" text-anchor="middle" textLength="10.8" lengthAdjust="spacingAndGlyphs" fill="#1a1a1a" stroke="#1a1a1a" stroke-width="0.3">0.6</text>
<text x="172.6" y="395.3" font-size="8.4" text-anchor="middle" fill="#1a1a1a" stroke="#1a1a1a" stroke-width="0.3">1</text>
<text x="191.0" y="395.3" font-size="8.4" text-anchor="middle" textLength="10.8" lengthAdjust="spacingAndGlyphs" fill="#1a1a1a" stroke="#1a1a1a" stroke-width="0.3">0.6</text>
<text x="209.3" y="395.3" font-size="8.4" text-anchor="middle" textLength="10.8" lengthAdjust="spacingAndGlyphs" fill="#1a1a1a" stroke="#1a1a1a" stroke-width="0.3">1.8</text>
<text x="227.0" y="395.3" font-size="8.4" text-anchor="middle" textLength="10.8" lengthAdjust="spacingAndGlyphs" fill="#1a1a1a" stroke="#1a1a1a" stroke-width="0.3">1.8</text>
<text x="245.0" y="395.3" font-size="8.4" text-anchor="middle" textLength="10.8" lengthAdjust="spacingAndGlyphs" fill="#1a1a1a" stroke="#1a1a1a" stroke-width="0.3">0.7</text>
<text x="263.4" y="395.3" font-size="8.4" text-anchor="middle" textLength="10.8" lengthAdjust="spacingAndGlyphs" fill="#1a1a1a" stroke="#1a1a1a" stroke-width="0.3">0.7</text>
<text x="281.2" y="395.3" font-size="8.4" text-anchor="middle" textLength="10.8" lengthAdjust="spacingAndGlyphs" fill="#1a1a1a" stroke="#1a1a1a" stroke-width="0.3">0.7</text>
<text x="297.9" y="395.3" font-size="8.4" text-anchor="middle" textLength="10.8" lengthAdjust="spacingAndGlyphs" fill="#1a1a1a" stroke="#1a1a1a" stroke-width="0.3">0.8</text>
<text x="322.2" y="395.3" font-size="8.4" text-anchor="middle" fill="#1a1a1a" stroke="#1a1a1a" stroke-width="0.3">1</text>
<text x="341.1" y="395.3" font-size="8.4" text-anchor="middle" fill="#1a1a1a" stroke="#1a1a1a" stroke-width="0.3">1</text>
<text x="358.8" y="395.3" font-size="8.4" text-anchor="middle" textLength="10.8" lengthAdjust="spacingAndGlyphs" fill="#1a1a1a" stroke="#1a1a1a" stroke-width="0.3">1.6</text>
<text x="376.7" y="395.3" font-size="8.4" text-anchor="middle" textLength="10.8" lengthAdjust="spacingAndGlyphs" fill="#1a1a1a" stroke="#1a1a1a" stroke-width="0.3">1.4</text>
<text x="397.0" y="395.3" font-size="8.4" text-anchor="middle" textLength="10.8" lengthAdjust="spacingAndGlyphs" fill="#1a1a1a" stroke="#1a1a1a" stroke-width="0.3">0.8</text>
<text x="416.5" y="395.3" font-size="8.4" text-anchor="middle" textLength="10.8" lengthAdjust="spacingAndGlyphs" fill="#1a1a1a" stroke="#1a1a1a" stroke-width="0.3">0.8</text>
<text x="435.0" y="395.3" font-size="8.4" text-anchor="middle" textLength="10.8" lengthAdjust="spacingAndGlyphs" fill="#1a1a1a" stroke="#1a1a1a" stroke-width="0.3">0.9</text>
<text x="452.7" y="395.3" font-size="8.4" text-anchor="middle" textLength="10.8" lengthAdjust="spacingAndGlyphs" fill="#1a1a1a" stroke="#1a1a1a" stroke-width="0.3">0.9</text>
<text x="465.2" y="374.2" font-size="8.6" textLength="22.6" lengthAdjust="spacingAndGlyphs" fill="#1a1a1a" stroke="#1a1a1a" stroke-width="0.3">TRAF6</text>
<text x="465.2" y="394.5" font-size="8.6" textLength="47.9" lengthAdjust="spacingAndGlyphs" fill="#1a1a1a" stroke="#1a1a1a" stroke-width="0.3">densitometry</text>
<text x="465.2" y="412.6" font-size="8.6" textLength="23.9" lengthAdjust="spacingAndGlyphs" fill="#1a1a1a" stroke="#1a1a1a" stroke-width="0.3">β-actin</text>
<rect x="0" y="0" width="1.3" height="427" fill="#0a0a0a"/>
<rect x="0" y="0" width="520" height="1.2" fill="#0a0a0a"/>
<rect x="518.7" y="0" width="1.3" height="427" fill="#0a0a0a"/>
<rect x="0" y="424.8" width="520" height="1.2" fill="#2a2a2a"/>
<rect x="0" y="426" width="520" height="1" fill="#5a5a5a"/>
</svg>
</body></html>
